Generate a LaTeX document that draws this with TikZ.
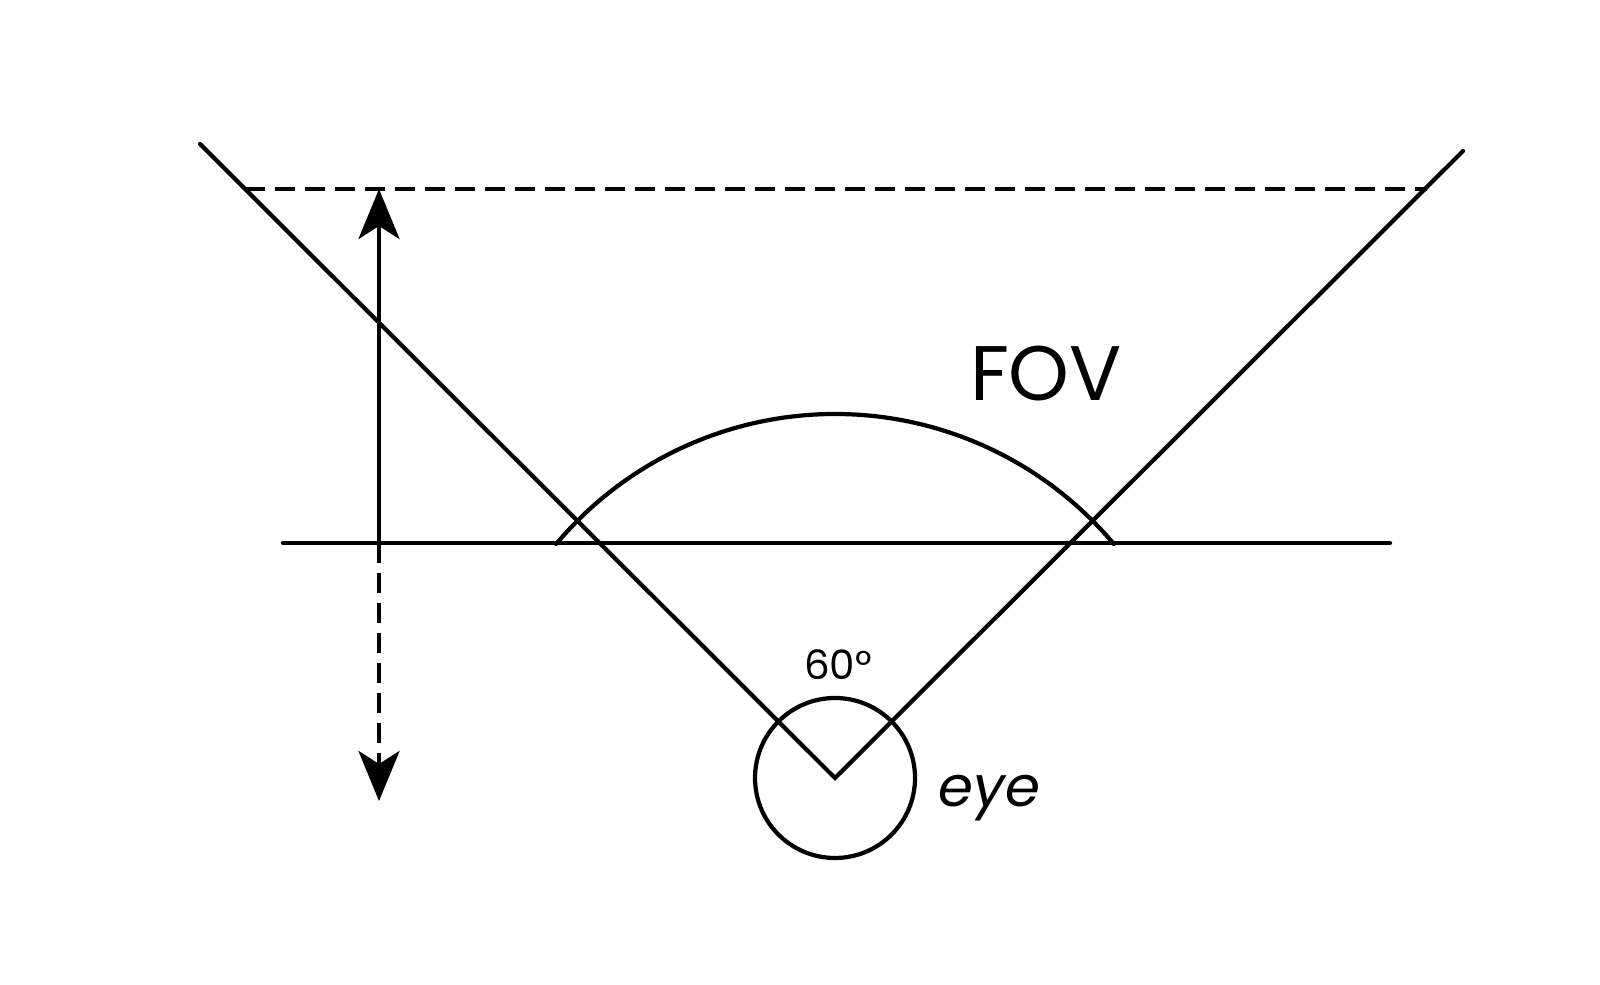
\documentclass[tikz,border=0pt]{standalone}
\usepackage{fontspec}
\setmainfont{Poppins}
\usetikzlibrary{arrows.meta, calc, positioning}

\begin{document}
\begin{tikzpicture}[line width=1.2pt, line cap=round]
    \useasboundingbox (0,0) rectangle (16,9.85);
    \tikzset{
        tip/.style={-{Stealth[length=5mm, width=4.1mm, inset=1.3mm]}},
        dashline/.style={dashed, dash pattern=on 2mm off 1mm, line cap=butt}
    }

    % Eye and view lines
    \coordinate (E) at (8.35,2.07);
    \node[circle, draw, minimum size=1.6cm, inner sep=0pt] (eye) at (E) {};
    \coordinate (leftend) at (2.00,8.41);
    \coordinate (rightend) at (14.63,8.34);
    \draw (leftend) -- (E) -- (rightend);

    % Screen plane and far plane
    \coordinate (screenL) at (2.83,4.42);
    \coordinate (screenR) at (13.90,4.42);
    \draw (screenL) -- (screenR);
    \coordinate (farL) at (2.45,7.96);
    \coordinate (farR) at (14.27,7.96);
    \draw[dashline] (farL) -- (farR);

    % Angle arc
    \draw ($(E)+(40:3.64)$) arc (40:140:3.64);

    % Depth arrows
    \coordinate (base) at (3.79,4.42);
    \coordinate (top) at (3.79,7.96);
    \coordinate (bottom) at (3.79,1.84);
    \draw[tip] (base) -- (top);
    \draw[tip, dashline] (base) -- (bottom);

    % Labels
    \node[font=\fontsize{22}{26}\selectfont] (fov) at (10.46,6.11) {FOV};
    \node[font=\fontsize{11.5}{14}\selectfont] (angle) at (8.38,3.20) {60°};
    \node[font=\fontsize{16}{19}\selectfont\itshape, right=0.08cm of eye, yshift=-0.2cm] (eyelabel) {eye};
\end{tikzpicture}
\end{document}
